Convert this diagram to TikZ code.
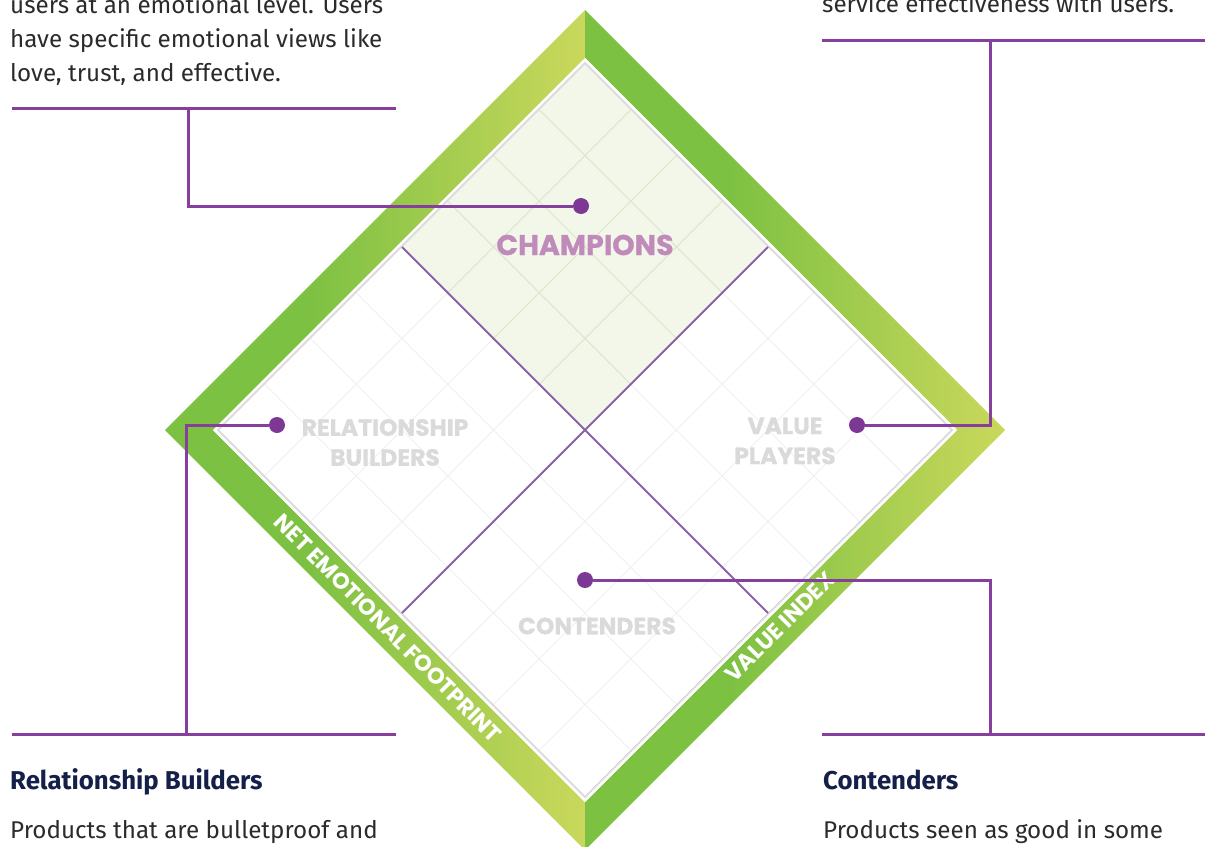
\documentclass[tikz,border=0pt]{standalone}
\usepackage{fontspec}
\setmainfont{Fira Sans}
\newfontfamily\geo{Poppins}
\definecolor{bandgreen}{HTML}{7DC142}
\definecolor{bandyellow}{HTML}{CAD85C}
\definecolor{connpurple}{HTML}{873F9D}
\definecolor{dotpurple}{HTML}{7D3795}
\definecolor{quadpurple}{HTML}{8A62A6}
\definecolor{champfill}{HTML}{F2F7EA}
\definecolor{champgrid}{HTML}{DCE7C5}
\definecolor{gridgray}{HTML}{F0F0F0}
\definecolor{bordergray}{HTML}{DCDCDC}
\definecolor{labelgray}{HTML}{DADADA}
\definecolor{champtext}{HTML}{C08BBA}
\definecolor{bodytext}{HTML}{2B2B2B}
\definecolor{headtext}{HTML}{15204A}
\pgfdeclarehorizontalshading{bandshade}{100bp}{color(0bp)=(bandgreen); color(25bp)=(bandgreen); color(42bp)=(bandgreen); color(75bp)=(bandyellow); color(100bp)=(bandyellow)}
\begin{document}
\begin{tikzpicture}[x=1pt,y=-1pt,
  conn/.style={draw=connpurple,line width=3pt},
  dot/.style={circle,fill=dotpurple,minimum size=16pt,inner sep=0pt},
  gridline/.style={draw=gridgray,line width=1pt},
  champline/.style={draw=champgrid,line width=1pt},
  quadline/.style={draw=quadpurple,line width=1.8pt},
  quadlabel/.style={font=\geo\bfseries\addfontfeature{FakeBold=0.6}\fontsize{23.5}{30}\selectfont,text=labelgray,inner sep=0pt,align=center},
  bandlabel/.style={font=\geo\bfseries\fontsize{22.5}{24}\selectfont,text=white,inner sep=0pt},
  body/.style={font=\fontsize{24.2}{34}\selectfont,text=bodytext,inner sep=0pt,anchor=base west},
  head/.style={font=\bfseries\fontsize{25.8}{30}\selectfont,text=headtext,inner sep=0pt,anchor=base west}]
\useasboundingbox (0,0) rectangle (1210,846);
% frame bands
\path[shading=bandshade] (165,430) -- (585,10) -- (585,58) -- (213,430) -- (585,802) -- (585,850) -- cycle;
\path[shading=bandshade] (585,10) -- (1005,430) -- (585,850) -- (585,802) -- (957,430) -- (585,58) -- cycle;
% inner area
\fill[white] (585,58) -- (957,430) -- (585,802) -- (213,430) -- cycle;
\fill[champfill] (585,64) -- (768,247) -- (585,430) -- (402,247) -- cycle;
\foreach \k in {1,2,3,5,6,7} {
  \draw[gridline] ({219+45.75*\k},{430+45.75*\k}) -- ({585+45.75*\k},{64+45.75*\k});
  \draw[gridline] ({219+45.75*\k},{430-45.75*\k}) -- ({585+45.75*\k},{796-45.75*\k});
}
\begin{scope}
  \clip (585,64) -- (768,247) -- (585,430) -- (402,247) -- cycle;
  \foreach \k in {1,2,3,5,6,7} {
    \draw[champline] ({219+45.75*\k},{430+45.75*\k}) -- ({585+45.75*\k},{64+45.75*\k});
    \draw[champline] ({219+45.75*\k},{430-45.75*\k}) -- ({585+45.75*\k},{796-45.75*\k});
  }
\end{scope}
\draw[bordergray,line width=2pt] (585,63) -- (952,430) -- (585,797) -- (218,430) -- cycle;
\draw[quadline] (402,247) -- (768,613);
\draw[quadline] (402,613) -- (768,247);
% quadrant labels
\node[quadlabel,text=champtext,font=\geo\bfseries\addfontfeature{FakeBold=0.6}\fontsize{28.5}{30}\selectfont] (champlabel) at (585,245) {CHAMPIONS};
\node[quadlabel] (rellabel) at (385,442.5) {RELATIONSHIP\\BUILDERS};
\node[quadlabel] (vallabel) at (785,441) {VALUE\\PLAYERS};
\node[quadlabel] (conlabel) at (597,626) {CONTENDERS};
% band labels
\node[bandlabel,rotate=-45] (netlabel) at (388,628) {NET EMOTIONAL FOOTPRINT};
\node[bandlabel,rotate=45] (vilabel) at (780,627) {VALUE INDEX};
% dots
\node[dot] (champdot) at (581,206) {};
\node[dot] (reldot) at (277,425) {};
\node[dot] (valdot) at (857,425) {};
\node[dot] (condot) at (585,580) {};
% junctions and rules
\coordinate (tlL) at (12,108); \coordinate (tlR) at (396,108); \coordinate (tlj) at (188,108);
\coordinate (trL) at (822,40); \coordinate (trR) at (1205,40); \coordinate (trj) at (990,40);
\coordinate (blL) at (12,734); \coordinate (blR) at (396,734); \coordinate (blj) at (186,734);
\coordinate (brL) at (822,734); \coordinate (brR) at (1205,734); \coordinate (brj) at (990,734);
\draw[conn] (tlL) -- (tlR);
\draw[conn] (trL) -- (trR);
\draw[conn] (blL) -- (blR);
\draw[conn] (brL) -- (brR);
\draw[conn] (champdot) -| (tlj);
\draw[conn] (reldot) -| (blj);
\draw[conn] (valdot) -| (trj);
\draw[conn] (condot) -| (brj);
% texts
\node[body] (tl1) at (10,13) {users at an emotional level. Users};
\node[body] (tl2) at (10,47) {have specific emotional views like};
\node[body] (tl3) at (10,81) {love, trust, and effective.};
\node[body] (tr1) at (822,12) {service effectiveness with users.};
\node[head] (blh) at (10,789) {Relationship Builders};
\node[body] (blb) at (10,838) {Products that are bulletproof and};
\node[head] (brh) at (823,789) {Contenders};
\node[body] (brb) at (823,838) {Products seen as good in some};
\end{tikzpicture}
\end{document}
